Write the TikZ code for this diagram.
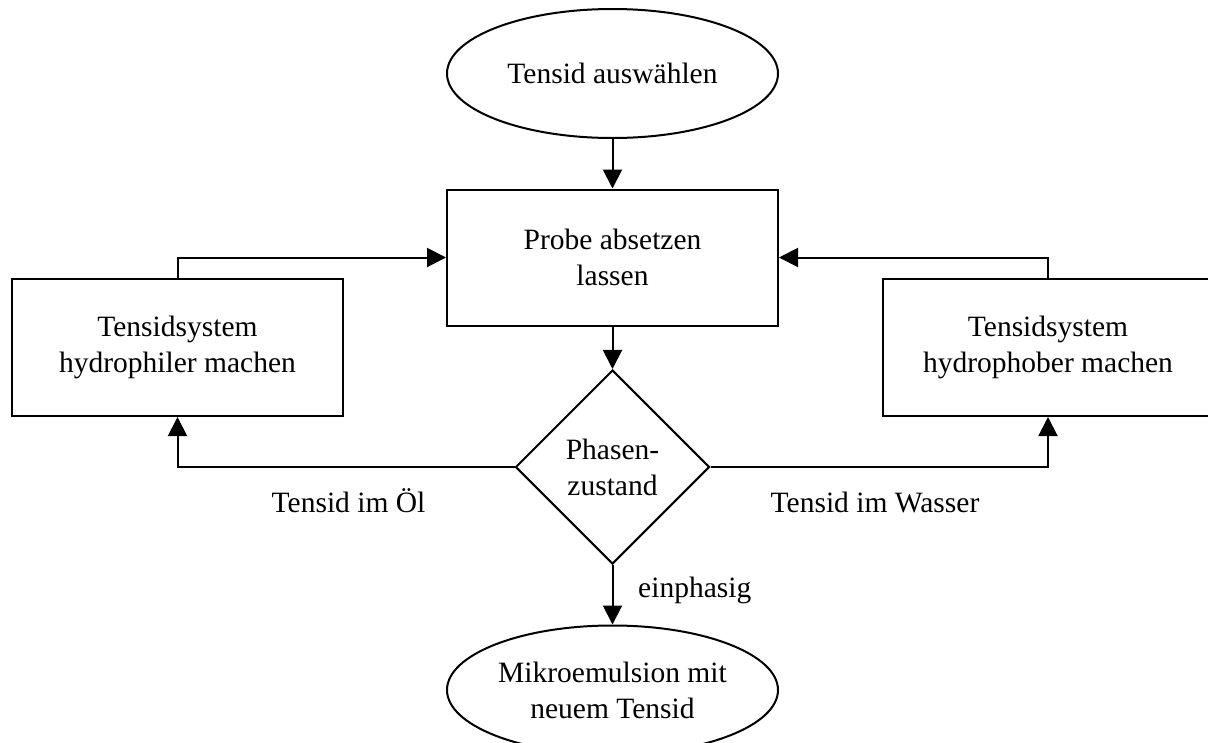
\documentclass[tikz,border=0pt]{standalone}
\usepackage{fontspec}
\setmainfont{Liberation Serif}
\usetikzlibrary{shapes.geometric,arrows.meta}
\begin{document}
\begin{tikzpicture}[x=1pt,y=-1pt,
  every node/.style={font=\fontsize{29.5}{36}\selectfont, align=center, inner sep=0pt},
  box/.style={draw, line width=2pt, minimum width=331pt, minimum height=136pt},
  term/.style={draw, ellipse, line width=2pt, minimum width=331pt, minimum height=129pt},
  dec/.style={draw, diamond, line width=2pt, minimum width=194pt, minimum height=194pt},
  arr/.style={line width=2pt, -{Triangle[length=19pt,width=19pt]}}]
\useasboundingbox (0,0) rectangle (1208,742);
\clip (0,0) rectangle (1208,742);
\node[term] (start) at (612.5,73.5) {Tensid auswählen};
\node[box] (probe) at (612.5,257.5) {Probe absetzen\\lassen};
\node[dec] (phase) at (612.5,467) {Phasen-\\zustand};
\node[box, minimum height=137pt] (left) at (177.5,347.5) {Tensidsystem\\hydrophiler machen};
\node[box, minimum height=137pt] (right) at (1048,347.5) {Tensidsystem\\hydrophober machen};
\node[term] (end) at (612.5,690) {Mikroemulsion mit\\neuem Tensid};
\draw[arr] (start) -- (probe);
\draw[arr] (probe) -- (phase);
\draw[arr] (phase) -- (end);
\draw[arr] (phase.west) -| (left.south);
\draw[arr] (phase.east) -| (right.south);
\draw[arr] (left.north) |- (probe.west);
\draw[arr] (right.north) |- (probe.east);
\node[anchor=base] (lo) at (348.5,512) {Tensid im Öl};
\node[anchor=base] (lw) at (875,512) {Tensid im Wasser};
\node[anchor=base west] (le) at (638,597) {einphasig};
\end{tikzpicture}
\end{document}
